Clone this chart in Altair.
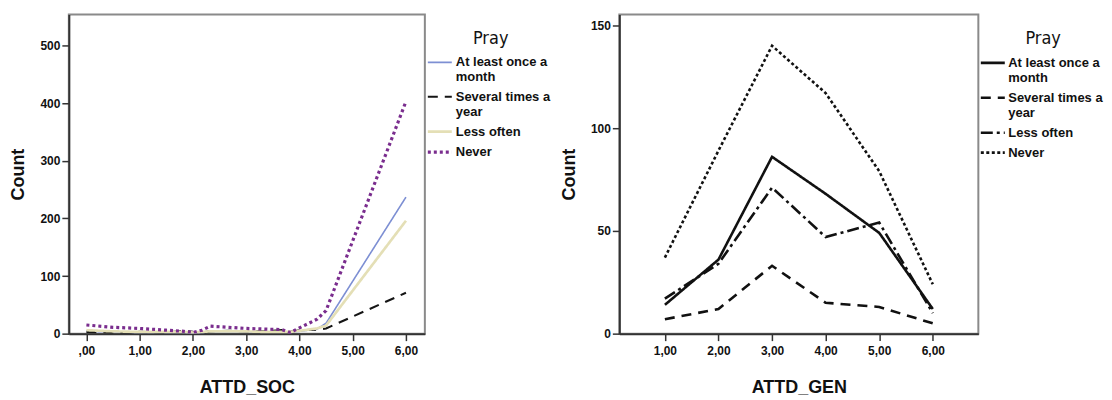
import altair as alt
import pandas as pd

SERIES = ["At least once a month", "Several times a year", "Less often", "Never"]

# ---- left panel: ATTD_SOC ----
SOC_X = [0, 0.5, 1, 1.5, 1.83, 2.0, 2.17, 2.33, 2.67, 3, 3.33, 3.67, 3.83, 4.0, 4.33, 4.5, 6]
SOC_MONTH = [4, 3, 2, 2, 2, 1, 2, 3, 3, 3, 3, 3, 2, 4, 8, 18, 237]
SOC_SEVERAL = [3, 2, 3, 2, 5, 3, 2, 4, 5, 4, 4, 6, 3, 6, 7, 9, 71]
SOC_LESS = [6, 4, 3, 3, 3, 2, 3, 4, 4, 4, 3, 3, 3, 5, 9, 14, 196]
SOC_NEVER = [15, 11, 9, 6, 4, 2, 6, 13, 11, 9, 8, 7, 2, 10, 25, 40, 403]
SOC_TICKS = [0, 1, 2, 3, 4, 5, 6]
SOC_LABELS = [",00", "1,00", "2,00", "3,00", "4,00", "5,00", "6,00"]
SOC_YTICKS = [0, 100, 200, 300, 400, 500]

# ---- right panel: ATTD_GEN ----
GEN_X = [1, 2, 3, 4, 5, 6]
GEN_MONTH = [14, 36, 86, 68, 49, 12]
GEN_SEVERAL = [7, 12, 33, 15, 13, 5]
GEN_LESS = [17, 34, 71, 47, 54, 10]
GEN_NEVER = [37, 89, 140, 117, 79, 24]
GEN_TICKS = [1, 2, 3, 4, 5, 6]
GEN_LABELS = ["1,00", "2,00", "3,00", "4,00", "5,00", "6,00"]
GEN_YTICKS = [0, 50, 100, 150]

FONT = "Liberation Sans, Arial, sans-serif"
NARROW = "Liberation Sans Narrow, Arial Narrow, DejaVu Sans Condensed, sans-serif"


def frame(xs, cols):
    rows = []
    for name, vals in zip(SERIES, cols):
        for xv, v in zip(xs, vals):
            rows.append({"x": xv, "Count": v, "Pray": name})
    return pd.DataFrame(rows)


def label_expr(vals, labels):
    expr = "''"
    for v, l in reversed(list(zip(vals, labels))):
        expr = f"abs(datum.value - {v}) < 0.001 ? '{l}' : ({expr})"
    return expr


LEGEND_LABELS = ("datum.label == 'At least once a month' ? ['At least once a', 'month'] : "
                 "datum.label == 'Several times a year' ? ['Several times a', 'year'] : datum.label")


def panel(df, xtitle, xdomain, xticks, xlabels, ydomain, yticks, colors, dashes, widths, width, legend_x):
    legend = alt.Legend(title="Pray", orient="none", legendX=legend_x, legendY=16,
                        labelExpr=LEGEND_LABELS)
    return alt.Chart(df).mark_line(strokeCap="butt", clip=True).encode(
        x=alt.X("x:Q", title=xtitle,
                scale=alt.Scale(domain=xdomain, nice=False, zero=False),
                axis=alt.Axis(values=xticks, labelExpr=label_expr(xticks, xlabels), grid=False)),
        y=alt.Y("Count:Q", title="Count",
                scale=alt.Scale(domain=ydomain, nice=False),
                axis=alt.Axis(values=yticks, grid=False)),
        color=alt.Color("Pray:N", scale=alt.Scale(domain=SERIES, range=colors), legend=legend),
        strokeDash=alt.StrokeDash("Pray:N", scale=alt.Scale(domain=SERIES, range=dashes), legend=legend),
        strokeWidth=alt.StrokeWidth("Pray:N", scale=alt.Scale(domain=SERIES, range=widths), legend=legend),
    ).properties(width=width, height=320)


left = panel(
    frame(SOC_X, [SOC_MONTH, SOC_SEVERAL, SOC_LESS, SOC_NEVER]),
    "ATTD_SOC", [-0.33, 6.355], SOC_TICKS, SOC_LABELS, [0, 554], SOC_YTICKS,
    ["#7d8fd3", "#151515", "#e4dfb6", "#7a2d8e"],
    [[1, 0], [10, 7], [1, 0], [3, 3]],
    [1.6, 3.2, 2.0, 3.2],
    357, 363,
)

right = panel(
    frame(GEN_X, [GEN_MONTH, GEN_SEVERAL, GEN_LESS, GEN_NEVER]),
    "ATTD_GEN", [0.15, 6.85], GEN_TICKS, GEN_LABELS, [0, 155.2], GEN_YTICKS,
    ["#111111", "#111111", "#111111", "#111111"],
    [[1, 0], [10, 7], [12, 4, 3, 4], [3, 2.5]],
    [2.6, 2.6, 2.6, 2.6],
    360, 366,
)

chart = alt.hconcat(left, right, spacing=195, bounds="flush").resolve_scale(
    color="independent", strokeDash="independent", strokeWidth="independent"
).resolve_legend(
    color="independent", strokeDash="independent", strokeWidth="independent"
).configure(
    padding={"left": 0, "top": 5, "right": 0, "bottom": 0},
    background="white",
).configure_view(
    stroke="#8a8a8a", strokeWidth=2,
).configure_axis(
    domainColor="#333333", domainWidth=2,
    tickColor="#333333", tickWidth=1.5, tickSize=7,
    labelFont=FONT, labelFontWeight="bold", labelFontSize=12, labelColor="#111111",
    titleFont=FONT, titleFontWeight="bold", titleFontSize=18, titleColor="#111111",
).configure_axisY(
    labelPadding=2, titlePadding=12,
).configure_axisX(
    labelPadding=5, titlePadding=22,
).configure_legend(
    symbolType="M-1.7,0H1.7", symbolSize=200, labelOffset=7,
    labelFont=FONT, labelFontWeight="bold", labelFontSize=13, labelColor="#111111",
    titleFont=NARROW, titleFontWeight="normal", titleFontSize=18, titleColor="#111111",
    titleAnchor="middle", titlePadding=6, rowPadding=4,
)

chart.save("out.html", embed_options={"renderer": "svg", "actions": False})
